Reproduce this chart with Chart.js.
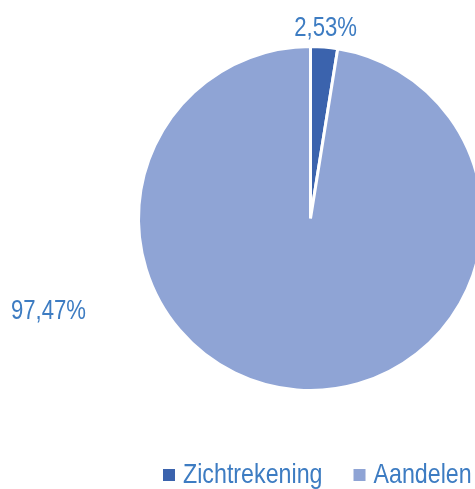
<!DOCTYPE html>
<html><head><meta charset="utf-8">
<script src="https://cdn.jsdelivr.net/npm/chart.js@4/dist/chart.umd.min.js"></script>
<style>html,body{margin:0;padding:0;background:#fff;overflow:hidden;width:475px;height:489px}canvas{display:block}</style>
</head><body>
<canvas id="c" width="495" height="489"></canvas>
<script>
const categories = ["Zichtrekening", "Aandelen"];
const values = [2.53, 97.47];
const valueLabels = ["2,53%", "97,47%"];
const colors = ["#3b63ad", "#8fa4d5"];
const textColor = "#3d7cc2";
const FONT = "'Liberation Sans', Arial, sans-serif";
const NARROW = 0.82;

// label placement: fixed angle (deg clockwise from top) or slice mid, distance beyond radius
const labelPlace = [{dist: 19, fixedAngle: null}, {dist: 106, fixedAngle: 250.5}];

function narrowText(ctx, text, x, y, align, k) {
  const w = ctx.measureText(text).width * k;
  let left = x;
  if (align === 'center') left = x - w / 2;
  ctx.save();
  ctx.translate(left, y);
  ctx.scale(k, 1);
  ctx.textAlign = 'left';
  ctx.fillText(text, 0, 0);
  ctx.restore();
  return w;
}

const labelsPlugin = {
  id: 'pieLabels',
  afterDatasetsDraw(chart) {
    const ctx = chart.ctx;
    const meta = chart.getDatasetMeta(0);
    ctx.save();
    ctx.font = "27px " + FONT;
    ctx.fillStyle = textColor;
    ctx.textBaseline = 'middle';
    meta.data.forEach((arc, i) => {
      const p = labelPlace[i];
      let a = (arc.startAngle + arc.endAngle) / 2;
      if (p.fixedAngle !== null) a = (p.fixedAngle - 90) * Math.PI / 180;
      const r = arc.outerRadius + p.dist;
      const x = arc.x + Math.cos(a) * r;
      const y = arc.y + Math.sin(a) * r;
      narrowText(ctx, valueLabels[i], x, y, 'center', NARROW);
    });
    // legend
    ctx.font = "28px " + FONT;
    ctx.textBaseline = 'alphabetic';
    let x = 163;
    const baseY = 483;
    categories.forEach((c, i) => {
      ctx.fillStyle = colors[i];
      ctx.fillRect(x, 469, 12, 12);
      ctx.fillStyle = textColor;
      const w = narrowText(ctx, c, x + 20, baseY, 'left', 0.83);
      x += 20 + w + 31;
    });
    ctx.restore();
  }
};

new Chart(document.getElementById('c'), {
  type: 'pie',
  data: {
    labels: categories,
    datasets: [{
      data: values,
      backgroundColor: colors,
      borderColor: '#ffffff',
      borderWidth: 3
    }]
  },
  options: {
    responsive: false,
    animation: false,
    layout: {padding: {top: 45, left: 137, right: 11, bottom: 97}},
    plugins: {legend: {display: false}, tooltip: {enabled: false}}
  },
  plugins: [labelsPlugin]
});
</script>
</body></html>
